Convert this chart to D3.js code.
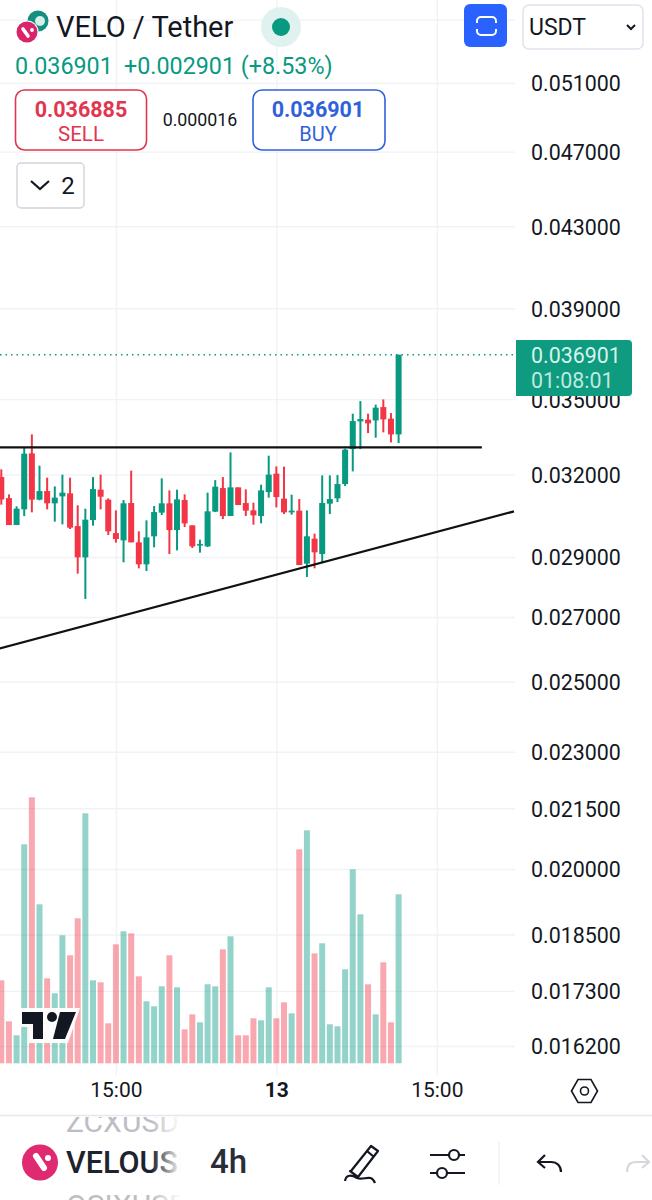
<!DOCTYPE html>
<html>
<head>
<meta charset="utf-8">
<style>
  html, body { margin: 0; padding: 0; background: #fff; }
  svg { display: block; }
  text { font-family: Roboto, sans-serif; }
</style>
<script src="https://cdn.jsdelivr.net/npm/d3@7"></script>
</head>
<body>
<div id="chart"></div>
<script>
// candle data (oldest first)
const opens = [.031898,.031110,.030126,.030695,.032810,.031051,.031370,.030915,.031173,.031285,.030090,.028990,.030306,.031422,.031051,.029840,.029582,.030926,.029512,.028749,.029724,.030575,.030915,.029947,.031036,.030115,.029407,.029372,.030611,.031482,.030451,.031509,.030926,.030658,.030451,.031333,.032027,.031088,.030585,.030647,.028773,.029642,.029104,.030904,.031099,.031633,.032978,.034085,.034154,.034125,.034669,.034194,.033561]
const highs = [.032192,.031248,.030805,.033057,.033561,.032334,.031875,.031546,.031989,.031875,.030842,.030720,.031898,.031989,.031099,.030658,.031036,.032142,.029901,.030295,.030816,.031848,.031396,.031422,.031248,.030115,.029607,.031311,.031783,.031898,.032849,.031509,.031434,.030940,.031610,.032721,.032307,.032295,.031236,.031073,.030658,.029819,.031962,.031962,.031974,.032993,.034398,.034918,.034398,.034769,.034989,.034423,.036901]
const lows = [.030867,.030126,.030126,.030451,.030585,.031025,.030695,.030248,.030151,.029983,.028432,.027586,.030104,.030695,.029770,.029502,.028818,.029512,.028612,.028520,.029337,.030488,.029104,.029232,.030054,.029313,.029152,.029348,.030596,.030342,.030451,.030853,.030451,.030141,.030187,.031125,.030768,.030524,.030502,.028725,.028318,.028612,.028818,.030524,.030963,.031558,.032115,.032978,.033613,.033430,.033641,.033243,.033215]
const closes = [.031059,.030126,.030720,.032799,.031051,.031370,.030915,.031125,.031311,.030033,.028990,.030320,.031445,.031161,.029901,.029628,.030915,.029512,.028749,.029688,.030596,.030915,.029947,.031062,.030187,.029372,.029452,.030622,.031535,.030451,.031509,.030853,.030647,.030476,.031396,.031989,.031148,.030585,.030647,.028725,.029724,.029163,.030926,.031073,.031633,.032955,.034097,.034178,.034004,.034645,.034166,.033561,.036901]
const volumes = [83,42,28,219,266,159,85,70,128,108,145,250,83,81,40,119,132,130,87,62,57,77,108,76,34,49,41,79,77,114,127,28,28,45,43,76,45,61,50,214,233,110,120,39,37,94,194,149,79,49,101,41,169]

const priceTicks = [0.051, 0.047, 0.043, 0.039, 0.035, 0.032, 0.029, 0.027, 0.025, 0.023, 0.0215, 0.02, 0.0185, 0.0173, 0.0162]
const priceGrid = [0.055].concat(priceTicks)
const timeTicks = [15, 36, 57]
const timeLabels = ['15:00', '13', '15:00']

// drawn lines: [candle index, price]
const resistanceLine = [[-0.2, 0.033046], [62.9, 0.033046]]
const supportLine = [[-0.2, 0.026011], [67.1, 0.030622]]
const lastPrice = 0.036901

const GREEN = '#089981'
const RED = '#f23645'
const BLUE = '#2f62d9'
const INK = '#131722'

const svg = d3.select('#chart').append('svg')
    .attr('width', 652)
    .attr('height', 1200)
    .attr('viewBox', [0, 0, 652, 1200])

const defs = svg.append('defs')

const x = d3.scaleLinear().domain([0, 52]).range([1.3, 398.6])
const y = d3.scaleLog().domain([0.051, 0.0162]).range([83, 1046])
const v = d3.scaleLinear().domain([0, 266]).range([1063.3, 797.3])

const addText = (parent, str, px, py, size, fill, opts = {}) => parent.append('text')
    .attr('x', px)
    .attr('y', py)
    .attr('font-size', size)
    .attr('fill', fill)
    .attr('font-weight', opts.weight || 400)
    .attr('text-anchor', opts.anchor || 'start')
    .text(str)

const drawGrid = () => {
    const h = svg.append('g').attr('class', 'grid-h')
        .call(d3.axisRight(y).tickValues(priceGrid).tickSize(515).tickFormat(''))
    const w = svg.append('g').attr('class', 'grid-v').attr('transform', 'translate(0,1075)')
        .call(d3.axisTop(x).tickValues(timeTicks).tickSize(1075).tickFormat(''))
    svg.selectAll('.grid-h .domain, .grid-v .domain').remove()
    svg.selectAll('.grid-h line, .grid-v line').attr('stroke', '#f0f2f6').attr('stroke-width', 1.4)
}

const drawVolumes = () => {
    svg.append('g').selectAll('rect')
        .data(volumes)
        .enter().append('rect')
        .attr('x', (d, i) => x(i) - 3)
        .attr('y', d => v(d))
        .attr('width', 6)
        .attr('height', d => v(0) - v(d))
        .attr('fill', (d, i) => closes[i] >= opens[i] ? GREEN : RED)
        .attr('fill-opacity', 0.43)
}

const drawCandles = () => {
    const g = svg.append('g')
    const color = i => closes[i] >= opens[i] ? GREEN : RED
    g.selectAll('line')
        .data(d3.range(opens.length))
        .enter().append('line')
        .attr('x1', i => x(i))
        .attr('x2', i => x(i))
        .attr('y1', i => y(highs[i]))
        .attr('y2', i => y(lows[i]))
        .attr('stroke', color)
        .attr('stroke-width', 2)
    g.selectAll('rect')
        .data(d3.range(opens.length))
        .enter().append('rect')
        .attr('x', i => x(i) - 3)
        .attr('y', i => y(Math.max(opens[i], closes[i])))
        .attr('width', 6)
        .attr('height', i => Math.max(1.5, Math.abs(y(opens[i]) - y(closes[i]))))
        .attr('fill', color)
}

const drawLines = () => {
    const line = d3.line().x(d => x(d[0])).y(d => y(d[1]))
    svg.append('path').attr('d', line(resistanceLine))
        .attr('fill', 'none').attr('stroke', '#111').attr('stroke-width', 2.3)
    svg.append('path').attr('d', line(supportLine))
        .attr('fill', 'none').attr('stroke', '#111').attr('stroke-width', 2.3)
    svg.append('line')
        .attr('x1', 0).attr('x2', 515)
        .attr('y1', y(lastPrice)).attr('y2', y(lastPrice))
        .attr('stroke', GREEN).attr('stroke-width', 1.5).attr('stroke-dasharray', '1.5 4')
}

const drawAxes = () => {
    const py = svg.append('g').attr('transform', 'translate(531,0)')
        .call(d3.axisRight(y).tickValues(priceTicks).tickSize(0).tickPadding(0).tickFormat(d3.format('.6f')))
    py.select('.domain').remove()
    py.selectAll('text').attr('font-size', 21.4).attr('fill', INK)
        .attr('font-family', 'Roboto, sans-serif')
        .attr('dy', '0.37em')

    const px = svg.append('g').attr('transform', 'translate(0,1082)')
        .call(d3.axisBottom(x).tickValues(timeTicks).tickSize(0).tickPadding(0)
            .tickFormat((d, i) => timeLabels[i]))
    px.select('.domain').remove()
    px.selectAll('text').attr('font-size', 21).attr('fill', INK)
        .attr('font-family', 'Roboto, sans-serif')
        .attr('font-weight', (d, i) => timeLabels[i] === '13' ? 700 : 400)

    // last price tag
    svg.append('path').attr('d', 'M516 340H628a4 4 0 0 1 4 4V392a4 4 0 0 1 -4 4H516Z').attr('fill', '#0e9b80')
    addText(svg, '0.036901', 531, 363, 21.4, '#d8f2ec')
    addText(svg, '01:08:01', 531, 388, 21.4, '#bfe9df')
}

const drawWatermark = () => {
    const g = svg.append('g')
    g.append('path').attr('d', 'M21 1008H80L68 1043H29V1027H21Z').attr('fill', '#fff').attr('fill-opacity', 0.95)
    g.append('path').attr('d', 'M22 1012H43V1039H33V1024H22Z').attr('fill', INK)
    g.append('circle').attr('cx', 52).attr('cy', 1017).attr('r', 5).attr('fill', INK)
    g.append('path').attr('d', 'M60 1012H76L65 1039H53Z').attr('fill', INK)
}

const drawHeader = () => {
    svg.append('circle').attr('cx', 38).attr('cy', 21).attr('r', 10.5).attr('fill', '#12907f')
    svg.append('circle').attr('cx', 40).attr('cy', 21).attr('r', 5).attr('fill', '#d5efe9')
    svg.append('circle').attr('cx', 27).attr('cy', 32).attr('r', 11.5).attr('fill', '#fff')
    svg.append('circle').attr('cx', 27).attr('cy', 32).attr('r', 10.5).attr('fill', '#d9246b')
    svg.append('path').attr('d', 'M23 29L28 36').attr('stroke', '#fff').attr('stroke-width', 3.6).attr('stroke-linecap', 'round')
    svg.append('circle').attr('cx', 32).attr('cy', 30).attr('r', 1.9).attr('fill', '#fff')

    addText(svg, 'VELO / Tether', 56, 37, 29, INK)
    svg.append('circle').attr('cx', 281).attr('cy', 27).attr('r', 20).attr('fill', '#e0f2ef')
    svg.append('circle').attr('cx', 281).attr('cy', 27).attr('r', 9).attr('fill', GREEN)

    addText(svg, '0.036901', 15, 74, 23.3, GREEN)
    addText(svg, '+0.002901 (+8.53%)', 124, 74, 23.3, GREEN)

    svg.append('rect').attr('x', 15.5).attr('y', 90).attr('width', 131).attr('height', 60).attr('rx', 9)
        .attr('fill', '#fff').attr('stroke', '#e0364f').attr('stroke-width', 1.6)
    addText(svg, '0.036885', 81, 117, 21.5, '#e0364f', { weight: 700, anchor: 'middle' })
    addText(svg, 'SELL', 81, 141, 20.5, '#e0364f', { anchor: 'middle' })
    addText(svg, '0.000016', 200, 126, 17.8, INK, { anchor: 'middle' })
    svg.append('rect').attr('x', 253).attr('y', 90).attr('width', 132).attr('height', 60).attr('rx', 9)
        .attr('fill', '#fff').attr('stroke', BLUE).attr('stroke-width', 1.6)
    addText(svg, '0.036901', 318, 117, 21.5, BLUE, { weight: 700, anchor: 'middle' })
    addText(svg, 'BUY', 318, 141, 20, BLUE, { anchor: 'middle' })

    svg.append('rect').attr('x', 17).attr('y', 163).attr('width', 67).attr('height', 45).attr('rx', 4)
        .attr('fill', '#fff').attr('stroke', '#d1d4dc').attr('stroke-width', 1.4)
    svg.append('path').attr('d', 'M31 181L40 189L49 181').attr('fill', 'none').attr('stroke', INK).attr('stroke-width', 2.2)
    addText(svg, '2', 68, 194, 24, INK, { anchor: 'middle' })

    svg.append('rect').attr('x', 464).attr('y', 4).attr('width', 43).attr('height', 43).attr('rx', 6).attr('fill', '#2962ff')
    svg.append('path').attr('d', 'M477 23V21a4 4 0 0 1 4 -4H492a4 4 0 0 1 4 4V23M477 29V31a4 4 0 0 0 4 4H492a4 4 0 0 0 4 -4V29')
        .attr('fill', 'none').attr('stroke', '#fff').attr('stroke-width', 2)

    svg.append('rect').attr('x', 523).attr('y', 5).attr('width', 120).attr('height', 44).attr('rx', 6)
        .attr('fill', '#fff').attr('stroke', '#e0e3eb').attr('stroke-width', 1.5)
    addText(svg, 'USDT', 529, 35, 23, INK)
    svg.append('path').attr('d', 'M627 25L631 29L635 25').attr('fill', 'none').attr('stroke', INK).attr('stroke-width', 2)

    // settings hexagon at the axis corner
    svg.append('path').attr('d', 'M571.5 1091L578 1079.5H591L597.5 1091L591 1102.5H578Z')
        .attr('fill', 'none').attr('stroke', INK).attr('stroke-width', 1.6)
    svg.append('circle').attr('cx', 584.5).attr('cy', 1091).attr('r', 4).attr('fill', 'none').attr('stroke', INK).attr('stroke-width', 1.6)
}

const drawToolbar = () => {
    svg.append('rect').attr('x', 0).attr('y', 1116).attr('width', 652).attr('height', 84).attr('fill', '#fff')
    svg.append('line').attr('x1', 0).attr('x2', 652).attr('y1', 1115.5).attr('y2', 1115.5)
        .attr('stroke', '#e6e8ee').attr('stroke-width', 1.6)

    defs.append('clipPath').attr('id', 'wheel').append('rect')
        .attr('x', 60).attr('y', 1117).attr('width', 121).attr('height', 83)
    const dark = defs.append('linearGradient').attr('id', 'fade-dark')
        .attr('gradientUnits', 'userSpaceOnUse').attr('x1', 152).attr('x2', 181).attr('y1', 0).attr('y2', 0)
    dark.append('stop').attr('offset', 0).attr('stop-color', '#1e222d')
    dark.append('stop').attr('offset', 1).attr('stop-color', '#fff')
    const pale = defs.append('linearGradient').attr('id', 'fade-pale')
        .attr('gradientUnits', 'userSpaceOnUse').attr('x1', 152).attr('x2', 181).attr('y1', 0).attr('y2', 0)
    pale.append('stop').attr('offset', 0).attr('stop-color', '#bcbec4')
    pale.append('stop').attr('offset', 1).attr('stop-color', '#fff')

    const wheel = svg.append('g').attr('clip-path', 'url(#wheel)')
    addText(wheel, 'ZCXUSDT', 66, 1132, 30, 'url(#fade-pale)')
    addText(wheel, 'VELOUSDT', 66, 1173, 30.5, 'url(#fade-dark)', { weight: 500 })
    addText(wheel, 'OSIXUSDT', 66, 1216, 30, 'url(#fade-pale)')

    svg.append('circle').attr('cx', 40).attr('cy', 1162.5).attr('r', 18).attr('fill', '#df2a72')
    svg.append('path').attr('d', 'M36 1156L44 1168').attr('stroke', '#fff').attr('stroke-width', 6).attr('stroke-linecap', 'round')
    svg.append('circle').attr('cx', 48).attr('cy', 1158).attr('r', 3).attr('fill', '#fff')

    addText(svg, '4h', 210, 1173, 33, '#2a2e39', { weight: 500 })

    // pencil
    svg.append('path').attr('d', 'M351 1171L371 1146L378 1151L358 1177L350 1171Z M367 1151L374 1157')
        .attr('fill', 'none').attr('stroke', INK).attr('stroke-width', 2.2).attr('stroke-linejoin', 'round')
    svg.append('path').attr('d', 'M345 1181C346 1174 352 1175 357 1178C364 1181 371 1173 375 1183')
        .attr('fill', 'none').attr('stroke', INK).attr('stroke-width', 2.2)

    // sliders
    svg.append('path').attr('d', 'M430 1155H449M459 1155H465M430 1173H437M447 1173H465')
        .attr('fill', 'none').attr('stroke', INK).attr('stroke-width', 2.2)
    svg.append('circle').attr('cx', 454).attr('cy', 1155).attr('r', 5).attr('fill', 'none').attr('stroke', INK).attr('stroke-width', 2.2)
    svg.append('circle').attr('cx', 442).attr('cy', 1173).attr('r', 5).attr('fill', 'none').attr('stroke', INK).attr('stroke-width', 2.2)

    svg.append('line').attr('x1', 499).attr('x2', 499).attr('y1', 1142).attr('y2', 1185).attr('stroke', '#eceef2').attr('stroke-width', 1.2)

    // undo / redo
    svg.append('path').attr('d', 'M545 1155L538 1162L545 1168M538 1162H551C557 1162 561 1166 561 1172')
        .attr('fill', 'none').attr('stroke', INK).attr('stroke-width', 2.2)
    svg.append('path').attr('d', 'M642 1155L649 1162L642 1168M649 1162H636C630 1162 627 1166 627 1172')
        .attr('fill', 'none').attr('stroke', '#d6d8dd').attr('stroke-width', 2.2)
}

const mainApp = () => {
    drawGrid()
    drawVolumes()
    drawWatermark()
    drawCandles()
    drawLines()
    drawAxes()
    drawHeader()
    drawToolbar()
}

mainApp()
</script>
</body>
</html>
